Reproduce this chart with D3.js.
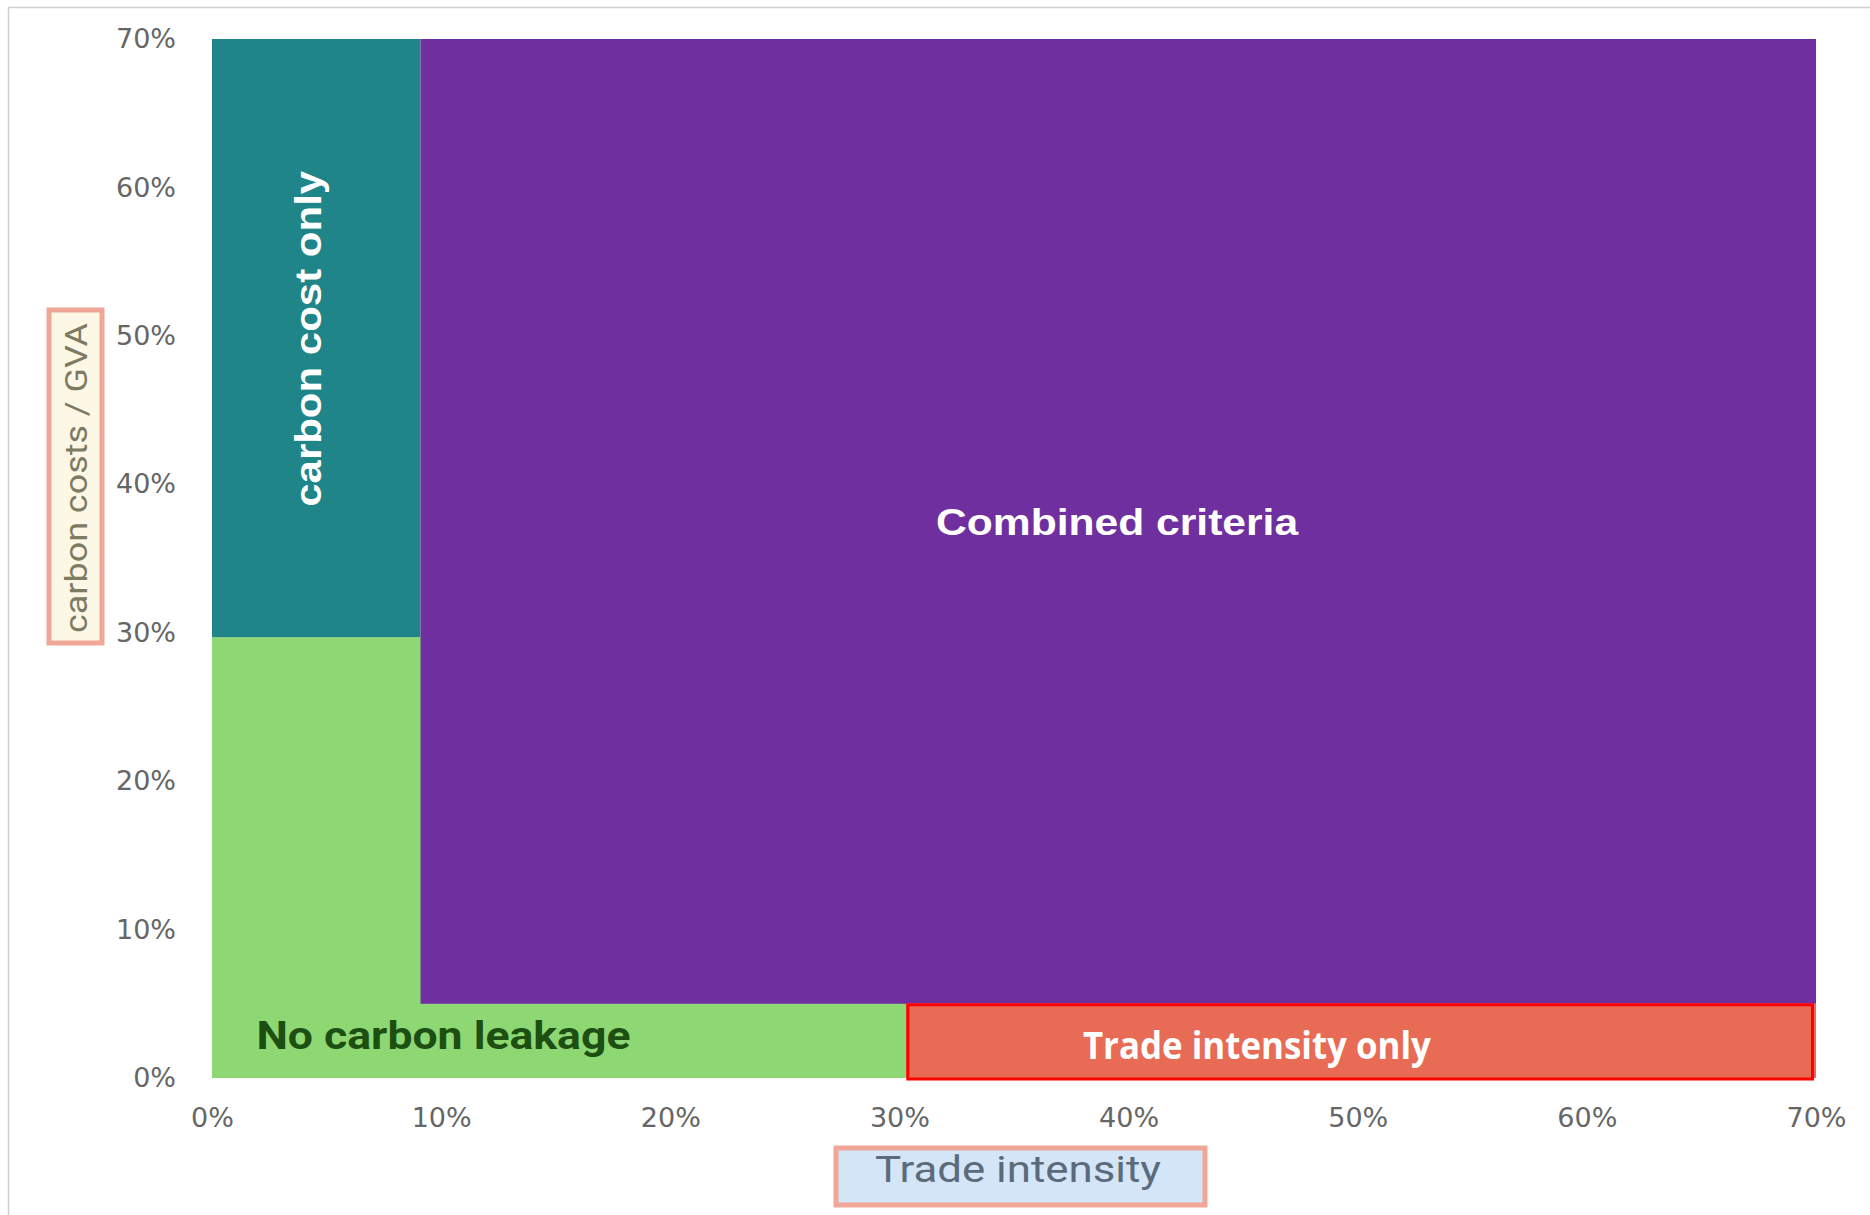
<!DOCTYPE html>
<html>
<head>
<meta charset="utf-8">
<script src="https://cdn.jsdelivr.net/npm/d3@7"></script>
<style>
  html, body { margin: 0; padding: 0; background: #fff; }
  svg { display: block; }
</style>
</head>
<body>
<div id="chart"></div>
<script>
"use strict";
const W = 1870, H = 1215;
const margin = {top: 39, right: 54, bottom: 137, left: 212}; // px

// regions, in percent of trade intensity (x) and carbon costs / GVA (y)
const regionNames = ["No carbon leakage", "carbon cost only", "Combined criteria", "Trade intensity only"];
const regionX0 = [0, 0, 9.1, 30.3];
const regionX1 = [30.3, 9.1, 70, 70];
const regionY0 = [0, 29.7, 5, 0];
const regionY1 = [29.7, 70, 70, 5];
const regionColors = ["#8ed873", "#1f8589", "#6f2f9f", "#e86b55"];
// where each region's label sits (percent coords)
const labelX = [10.1, 4.2, 39.5, 45.6];
const labelY = [2.85, 49.8, 37.4, 2.2];

const xTicks = [0, 10, 20, 30, 40, 50, 60, 70];
const yTicks = [0, 10, 20, 30, 40, 50, 60, 70];
const xTitle = "Trade intensity";
const yTitle = "carbon costs / GVA";

const width = W - margin.left - margin.right;
const height = H - margin.top - margin.bottom;

const x = d3.scaleLinear().domain([0, 70]).range([margin.left, margin.left + width]);
const y = d3.scaleLinear().domain([0, 70]).range([margin.top + height, margin.top]);

const svg = d3.select("#chart").append("svg")
    .attr("width", W)
    .attr("height", H);

// outer frame
svg.append("rect")
    .attr("x", 8.5).attr("y", 7.5)
    .attr("width", W + 10).attr("height", H + 10)
    .attr("fill", "none")
    .attr("stroke", "#d0d0d0")
    .attr("stroke-width", 1.5);

const regions = regionNames.map((name, i) => ({
    name, x0: regionX0[i], x1: regionX1[i], y0: regionY0[i], y1: regionY1[i],
    color: regionColors[i], lx: labelX[i], ly: labelY[i]
}));

svg.append("g")
    .selectAll("rect")
    .data(regions)
    .join("rect")
    .attr("x", (d) => x(d.x0))
    .attr("y", (d) => y(d.y1))
    .attr("width", (d) => x(d.x1) - x(d.x0))
    .attr("height", (d) => y(d.y0) - y(d.y1))
    .attr("fill", (d) => d.color);

// red outline on trade-intensity-only box
const tr = regions[3];
svg.append("rect")
    .attr("x", x(tr.x0) + 1.5)
    .attr("y", y(tr.y1) + 1)
    .attr("width", x(tr.x1) - x(tr.x0) - 5)
    .attr("height", y(tr.y0) - y(tr.y1))
    .attr("fill", "none")
    .attr("stroke", "#ff0000")
    .attr("stroke-width", 3);

// y axis
const yAxis = d3.axisLeft(y)
    .tickValues(yTicks)
    .tickSize(0)
    .tickPadding(0)
    .tickFormat((d) => d + "%");

svg.append("g")
    .attr("transform", `translate(${margin.left - 36},0)`)
    .call(yAxis)
    .call((g) => g.select(".domain").remove())
    .call((g) => g.selectAll("text")
        .attr("font-family", "'DejaVu Sans', sans-serif")
        .attr("font-size", 27)
        .attr("fill", "#666"));

// x axis
const xAxis = d3.axisBottom(x)
    .tickValues(xTicks)
    .tickSize(0)
    .tickPadding(0)
    .tickFormat((d) => d + "%");

svg.append("g")
    .attr("transform", `translate(0,${margin.top + height + 30})`)
    .call(xAxis)
    .call((g) => g.select(".domain").remove())
    .call((g) => g.selectAll("text")
        .attr("font-family", "'DejaVu Sans', sans-serif")
        .attr("font-size", 27)
        .attr("fill", "#666")
        .attr("dy", "0.71em"));

// region labels
const labelStyles = [
    {fill: "#1d4f12", size: 38, family: "Roboto, sans-serif", rotate: 0, len: 374},
    {fill: "#fff", size: 36, family: "'Liberation Sans', Arial, sans-serif", rotate: -90, len: 336},
    {fill: "#fff", size: 36, family: "'Liberation Sans', Arial, sans-serif", rotate: 0, len: 362},
    {fill: "#fff", size: 38, family: "'Open Sans', sans-serif", rotate: 0, len: 348}
];

svg.append("g")
    .selectAll("text")
    .data(regions)
    .join("text")
    .attr("transform", (d, i) => `translate(${x(d.lx)},${y(d.ly)}) rotate(${labelStyles[i].rotate})`)
    .attr("text-anchor", "middle")
    .attr("dy", "0.35em")
    .attr("font-family", (d, i) => labelStyles[i].family)
    .attr("font-size", (d, i) => labelStyles[i].size)
    .attr("font-weight", "bold")
    .attr("fill", (d, i) => labelStyles[i].fill)
    .attr("textLength", (d, i) => labelStyles[i].len)
    .attr("lengthAdjust", "spacingAndGlyphs")
    .text((d) => d.name);

// y axis title box
svg.append("rect")
    .attr("x", 49).attr("y", 310)
    .attr("width", 53).attr("height", 333)
    .attr("fill", "#fdf7e6")
    .attr("stroke", "#f0a797")
    .attr("stroke-width", 5);

svg.append("text")
    .attr("transform", `translate(76,478) rotate(-90)`)
    .attr("text-anchor", "middle")
    .attr("dy", "0.35em")
    .attr("font-family", "Roboto, sans-serif")
    .attr("font-size", 32)
    .attr("fill", "#7d7b62")
    .attr("textLength", 310)
    .attr("lengthAdjust", "spacingAndGlyphs")
    .text(yTitle);

// x axis title box
svg.append("rect")
    .attr("x", 836).attr("y", 1148)
    .attr("width", 369).attr("height", 57)
    .attr("fill", "#d3e5f6")
    .attr("stroke", "#f0a797")
    .attr("stroke-width", 5);

svg.append("text")
    .attr("x", 1018).attr("y", 1169)
    .attr("text-anchor", "middle")
    .attr("dy", "0.35em")
    .attr("font-family", "Roboto, sans-serif")
    .attr("font-size", 36)
    .attr("fill", "#5b6b7b")
    .attr("textLength", 286)
    .attr("lengthAdjust", "spacingAndGlyphs")
    .text(xTitle);
</script>
</body>
</html>
